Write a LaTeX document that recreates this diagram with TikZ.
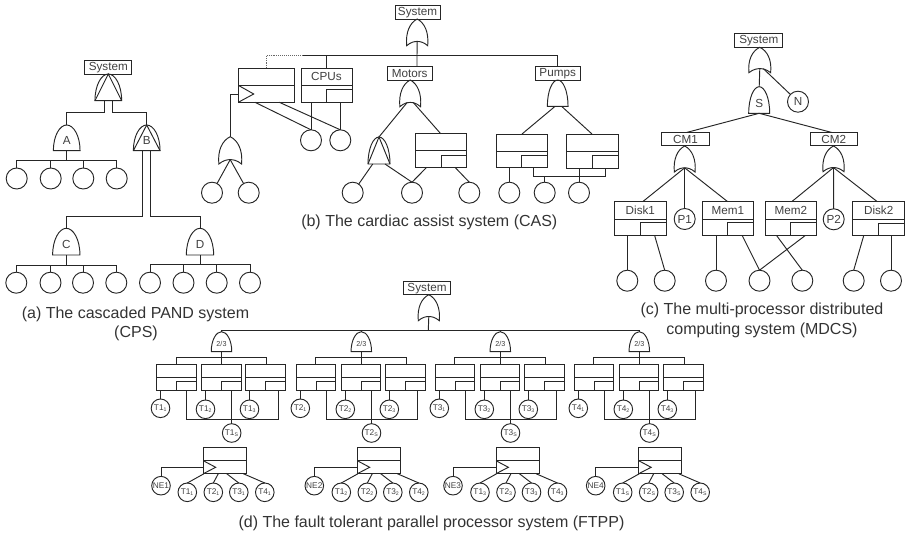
\documentclass[tikz,border=0pt]{standalone}
\usepackage{fontspec}
\setmainfont{Liberation Sans}
\newcommand{\orgate}[5]{% name cx ytop w h
  \node[hull,minimum width={(#4)*1pt},minimum height={(#5)*1pt}] (#1) at ({#2},{(#3)+(#5)/2}) {};
  \coordinate (#1-o) at ({#2},{(#3)+.84*(#5)});
  \draw[gateline,shift={({#2},{#3})},x=#4pt,y=#5pt] (-.5,-1) .. controls (-.56,-.5) and (-.35,-.14) .. (0,0) .. controls (.35,-.14) and (.56,-.5) .. (.5,-1) .. controls (.3,-.86) and (.12,-.84) .. (0,-.84) .. controls (-.12,-.84) and (-.3,-.86) .. (-.5,-1) -- cycle;}
\newcommand{\andgate}[6]{% name cx ytop w h label
  \node[hull,minimum width={(#4)*1pt},minimum height={(#5)*1pt}] (#1) at ({#2},{(#3)+(#5)/2}) {};
  \draw[gateline,shift={({#2},{#3})},x=#4pt,y=#5pt] (-.5,-1) .. controls (-.5,-.42) and (-.26,0) .. (0,0) .. controls (.26,0) and (.5,-.42) .. (.5,-1) -- cycle;
  \node[gatetext] (#1-l) at ({#2},{(#3)+.62*(#5)}) {#6};}
\newcommand{\pandgate}[6]{%
  \andgate{#1}{#2}{#3}{#4}{#5}{#6}
  \draw[gateline,shift={({#2},{#3})},x=#4pt,y=#5pt] (-.5,-1) -- (0,0) -- (.5,-1);}
\newcommand{\plainbox}[7]{% name x1 y1 x2 y2 ymid label
  \node[evbox,minimum width={((#4)-(#2))*1pt},minimum height={((#5)-(#3))*1pt}] (#1) at ({((#2)+(#4))/2},{((#3)+(#5))/2}) {};
  \draw[gateline] ({#2},{#6}) -- ({#4},{#6});
  \node[lbl] (#1-l) at ({((#2)+(#4))/2},{((#3)+(#6))/2}) {#7};}
\newcommand{\spbox}[9]{% name x1 y1 x2 y2 ymid xsm ysm label
  \plainbox{#1}{#2}{#3}{#4}{#5}{#6}{#9}
  \draw[gateline] ({#7},{#5}) -- ({#7},{#8}) -- ({#4},{#8});}
\newcommand{\trbox}[8]{% name x1 y1 x2 y2 ymid tipx tipy
  \plainbox{#1}{#2}{#3}{#4}{#5}{#6}{}
  \draw[gateline] ({#2},{#6}) -- ({#7},{#8}) -- ({#2},{#5});}
\tikzset{
  hull/.style={inner sep=0pt,outer sep=0pt},
  gateline/.style={line width=.95pt,draw=black!85},
  conn/.style={line width=.95pt,draw=black!85},
  gatetext/.style={inner sep=0pt,text=black!75,font=\fontsize{11.7}{13}\selectfont},
  lbl/.style={inner sep=0pt,text=black!75,font=\fontsize{11.7}{13}\selectfont},
  lblbox/.style={draw=black!85,line width=.95pt,inner sep=0pt,outer sep=0pt,minimum height=13.5pt,text=black!75,font=\fontsize{11.7}{13}\selectfont},
  evbox/.style={draw=black!85,line width=.95pt,inner sep=0pt,outer sep=0pt},
  ev/.style={circle,draw=black!85,line width=.95pt,inner sep=0pt,outer sep=0pt,minimum size=21pt,text=black!75,font=\fontsize{11.7}{13}\selectfont},
  evs/.style={circle,draw=black!85,line width=.95pt,inner sep=0pt,outer sep=0pt,minimum size=18.6pt,text=black!75,font=\fontsize{8.3}{9}\selectfont},
  capt/.style={inner sep=0pt,text=black!80,font=\fontsize{16}{18}\selectfont},
}
\newcommand{\sbs}[1]{\textsubscript{\fontsize{5.2}{6}\selectfont #1}}
\begin{document}
\begin{tikzpicture}[x=1pt,y=-1pt]
\useasboundingbox (0,0) rectangle (906,538);
% ---------- (a)
\node[lblbox,minimum width=47.3pt] (asys) at (108.3,67.3) {System};
\pandgate{a0}{108.3}{74}{26.7}{26.7}{}
\andgate{aA}{66.7}{125}{26.7}{25.7}{A}
\pandgate{aB}{146.7}{125}{26.7}{25.7}{B}
\andgate{aC}{66.3}{228.3}{27.3}{26.7}{C}
\andgate{aD}{200}{228.3}{27.3}{26.7}{D}
\draw[conn] (104.3,0 |- a0.south) |- (aA.north |- 0,112) -- (aA.north);
\draw[conn] (112.7,0 |- a0.south) |- (aB.north |- 0,112) -- (aB.north);
\foreach \n/\x in {1/16.7,2/50.7,3/83.3,4/116.7}{\node[ev] (a1\n) at (\x,178.5) {};}
\foreach \n/\x in {1/16.3,2/50.5,3/83,4/116.3}{\node[ev] (a2\n) at (\x,282.7) {};}
\foreach \n/\x in {1/150,2/183.5,3/216.7,4/250}{\node[ev] (a3\n) at (\x,282.7) {};}
\draw[conn] (aA.south) -- (aA.south |- 0,160.7);
\draw[conn] (a11.north) |- (a14.north |- 0,160.7) -- (a14.north);
\draw[conn] (a12.north) -- (a12.north |- 0,160.7);
\draw[conn] (a13.north) -- (a13.north |- 0,160.7);
\draw[conn] (aC.south) -- (aC.south |- 0,265);
\draw[conn] (a21.north) |- (a24.north |- 0,265) -- (a24.north);
\draw[conn] (a22.north) -- (a22.north |- 0,265);
\draw[conn] (a23.north) -- (a23.north |- 0,265);
\draw[conn] (aD.south) -- (aD.south |- 0,264);
\draw[conn] (a31.north) |- (a34.north |- 0,264) -- (a34.north);
\draw[conn] (a32.north) -- (a32.north |- 0,264);
\draw[conn] (a33.north) -- (a33.north |- 0,264);
\draw[conn] (142.7,0 |- aB.south) |- (aC.north |- 0,216.7) -- (aC.north);
\draw[conn] (150.7,0 |- aB.south) |- (aD.north |- 0,216.7) -- (aD.north);
\node[capt] (capa1) at (135.5,314) {(a) The cascaded PAND system};
\node[capt] (capa2) at (136,333.5) {(CPS)};
% ---------- (b)
\node[lblbox,minimum width=45pt] (bsys) at (417.5,12.4) {System};
\orgate{b0}{417.2}{19}{21}{26.7}
\coordinate (bbus) at (417,55);
\coordinate (bdot) at (303,55);
\trbox{bL}{238.3}{68.3}{294.3}{102.3}{85.3}{253.7}{94}
\spbox{bC}{301}{68.3}{352}{102.3}{85.3}{326.7}{89.3}{CPUs}
\node[lblbox,minimum width=44.7pt] (bM) at (409.7,73.4) {Motors};
\node[lblbox,minimum width=44.7pt] (bP) at (557.7,73.4) {Pumps};
\orgate{bMg}{410.2}{80}{20.7}{26.7}
\andgate{bPg}{557.7}{80}{20.7}{26.4}{}
\draw[conn] (b0-o) -- (bbus) -- (417,0 |- bM.north);
\draw[conn,densely dotted,draw=black!60] (bL.north) |- (bdot);
\draw[conn] (bdot) -- (bP.north |- bbus) -- (bP.north);
\draw[conn] (bC.north) -- (bC.north |- bbus);
\orgate{bO}{230.2}{136.7}{22.7}{27.3}
\coordinate (bLt) at (238.3,94);
\draw[conn] (bLt) -| (bO.north);
\node[ev] (bc1) at (212,192.7) {};
\node[ev] (bc2) at (248.7,192.7) {};
\draw[conn] (bO-o) -- (bc1);
\draw[conn] (bO-o) -- (bc2);
\node[ev] (bc3) at (311,140.3) {};
\node[ev] (bc4) at (340.3,140.3) {};
\draw[conn] (bc3.north |- bC.south) -- (bc3.north);
\draw[conn] (bc4.north |- bC.south) -- (bc4.north);
\draw[conn] (255,0 |- bL.south) -- (bc3.north);
\draw[conn] (279.3,0 |- bL.south) -- (bc4.north);
\pandgate{bA}{379}{137}{22}{27}{}
\spbox{bMb}{415.3}{133.7}{466.3}{167.3}{150.7}{441.3}{155}{}
\node[ev] (bc5) at (352.7,192.7) {};
\node[ev] (bc6) at (412,192.7) {};
\node[ev] (bc7) at (469.3,192.7) {};
\node[ev] (bc8) at (509.3,192.7) {};
\node[ev] (bc9) at (544.7,192.7) {};
\node[ev] (bc10) at (579,192.7) {};
\draw[conn] ([xshift=-3pt]bMg-o) -- (bA.north);
\draw[conn] ([xshift=3pt]bMg-o) -- (440.7,0 |- bMb.north);
\draw[conn] (372.7,0 |- bA.south) -- (bc5);
\draw[conn] (385,0 |- bA.south) -- (bc6.north);
\draw[conn] (426.7,0 |- bMb.south) -- (bc6.north);
\draw[conn] (455,0 |- bMb.south) -- (bc7.north);
\spbox{bP1}{496.7}{134}{547.7}{167.5}{151}{521.3}{155}{}
\spbox{bP2}{566.3}{134}{618}{168}{151.7}{592.7}{155.7}{}
\draw[conn] (555,0 |- bPg.south) -- (522,0 |- bP1.north);
\draw[conn] (561.7,0 |- bPg.south) -- (592,0 |- bP2.north);
\draw[conn] (bc8.north |- bP1.south) -- (bc8.north);
\draw[conn] (533.7,0 |- bP1.south) |- (605.7,176.3) -- (605.7,0 |- bP2.south);
\draw[conn] (bc9.north) -- (bc9.north |- 0,176.3);
\draw[conn] (bc10.north) -- (bc10.north |- bP2.south);
\node[capt] (capb) at (429.3,222.7) {(b) The cardiac assist system (CAS)};
% ---------- (c)
\node[lblbox,minimum width=47.7pt] (csys) at (758.8,40.7) {System};
\orgate{c0}{759.8}{47.3}{21.7}{25.4}
\andgate{cS}{759.2}{86.7}{21}{26.6}{S}
\node[ev] (cN) at (798,101.7) {N};
\draw[conn] (c0-o) -- (cS.north);
\draw[conn] ([xshift=3.5pt]c0-o) -- (cN);
\node[lblbox,minimum width=47.6pt] (cM1) at (685.5,139.2) {CM1};
\node[lblbox,minimum width=47.3pt] (cM2) at (833.7,139.2) {CM2};
\draw[conn] (cS.south) -- (686.7,0 |- cM1.north);
\draw[conn] (cS.south) -- (831.7,0 |- cM2.north);
\orgate{cg1}{684.7}{146}{20.7}{26}
\orgate{cg2}{833.5}{146}{21}{25.7}
\spbox{cD1}{614.7}{201.7}{666}{235.7}{219}{640}{222.7}{Disk1}
\spbox{cM3}{702}{201.7}{753.7}{235.7}{219}{727.3}{222.7}{Mem1}
\spbox{cM4}{765}{201.7}{816.7}{235.7}{219}{790.7}{222.7}{Mem2}
\spbox{cD2}{852.7}{201.7}{904.7}{235.7}{219.3}{878}{223.3}{Disk2}
\node[ev] (cP1) at (684.7,219) {P1};
\node[ev] (cP2) at (833.7,219.3) {P2};
\draw[conn] (cg1-o) -- (642.7,0 |- cD1.north);
\draw[conn] (cg1-o) -- (cP1.north);
\draw[conn] (cg1-o) -- (727.7,0 |- cM3.north);
\draw[conn] (cg2-o) -- (791.7,0 |- cM4.north);
\draw[conn] (cg2-o) -- (cP2.north);
\draw[conn] (cg2-o) -- (877.3,0 |- cD2.north);
\foreach \n/\x in {1/627.3,2/664.7,3/716,4/759.5,5/802.3,6/853.7,7/891}{\node[ev] (cc\n) at (\x,280.7) {};}
\draw[conn] (cc1.north |- cD1.south) -- (cc1.north);
\draw[conn] (654.7,0 |- cD1.south) -- (cc2.north);
\draw[conn] (cc3.north |- cM3.south) -- (cc3.north);
\draw[conn] (742.3,0 |- cM3.south) -- (cc4.north);
\draw[conn] (805,0 |- cM4.south) -- (cc4.north);
\draw[conn] (776.7,0 |- cM4.south) -- (cc5.north);
\draw[conn] (863.7,0 |- cD2.south) -- (cc6.north);
\draw[conn] (cc7.north |- cD2.south) -- (cc7.north);
\node[capt] (capc1) at (762,310) {(c) The multi-processor distributed};
\node[capt] (capc2) at (762,330) {computing system (MDCS)};
% ---------- (d)
\node[lblbox,minimum width=47.4pt] (dsys) at (427,288.2) {System};
\orgate{d0}{428.8}{294.7}{21}{26}
\coordinate (dbus) at (428.3,330);
\draw[conn] (d0-o) -- (dbus);
\foreach \g/\c/\l/\n/\s in {1/221.5/203.3/161/1,2/361.3/357.3/314.3/2,3/500.3/496/453/3,4/639.3/638.7/595.7/S}{
  \andgate{g\g}{\c}{331.7}{20.5}{20}{\fontsize{7.2}{8}\selectfont 2/3}
  \draw[conn] (g\g.north) -- (g\g.north |- dbus);
  \spbox{g\g a}{\c-65.2}{364.3}{\c-25.5}{390.7}{377.7}{\c-44.8}{381.3}{}
  \spbox{g\g b}{\c-20.2}{364.3}{\c+19.5}{390.7}{377.7}{\c+0.2}{381.3}{}
  \spbox{g\g c}{\c+23.8}{364.3}{\c+63.8}{390.7}{377.7}{\c+44.2}{381.3}{}
  \draw[conn] (g\g.south) -- (g\g.south |- g\g b.north);
  \draw[conn] ({\c-45.5},0 |- g\g a.north) |- ({\c+45.4},357.7) -- ({\c+45.4},0 |- g\g c.north);
  \node[evs] (t\g a) at ({\c-61},408.3) {T\g\sbs{1}};
  \node[evs] (t\g b) at ({\c-16},409.3) {T\g\sbs{2}};
  \node[evs] (t\g c) at ({\c+28},409.3) {T\g\sbs{3}};
  \node[evs] (t\g s) at ({\c+10.2},433) {T\g\sbs{S}};
  \draw[conn] (t\g a.north |- g\g a.south) -- (t\g a.north);
  \draw[conn] (t\g b.north |- g\g b.south) -- (t\g b.north);
  \draw[conn] (t\g c.north |- g\g c.south) -- (t\g c.north);
  \draw[conn] (t\g s.north |- g\g b.south) -- (t\g s.north);
  \draw[conn] ({\c-34.8},0 |- g\g a.south) |- ({\c+56.5},419.3) -- ({\c+56.5},0 |- g\g c.south);
  \trbox{s\g}{\l}{447.9}{\l+43}{473.7}{460.7}{\l+12.4}{467.3}
  \node[evs] (n\g) at (\n,485.7) {NE\g};
  \coordinate (s\g t) at (\l,467.3);
  \draw[conn] (s\g t) -| (n\g.north);
  \node[evs] (e\g a) at ({\l-16},492.3) {T1\sbs{\s}};
  \node[evs] (e\g b) at ({\l+10},492.3) {T2\sbs{\s}};
  \node[evs] (e\g c) at ({\l+35.5},492.3) {T3\sbs{\s}};
  \node[evs] (e\g d) at ({\l+61.5},492.3) {T4\sbs{\s}};
  \draw[conn] ({\l+0.7},0 |- s\g.south) -- (e\g a.north);
  \draw[conn] ({\l+15},0 |- s\g.south) -- (e\g b.north);
  \draw[conn] ({\l+23.4},0 |- s\g.south) -- (e\g c.north);
  \draw[conn] ({\l+40},0 |- s\g.south) -- (e\g d.north);
}
\draw[conn] (g1.north |- dbus) -- (g4.north |- dbus);
\node[capt] (capd) at (431.5,523) {(d) The fault tolerant parallel processor system (FTPP)};
\end{tikzpicture}
\end{document}
